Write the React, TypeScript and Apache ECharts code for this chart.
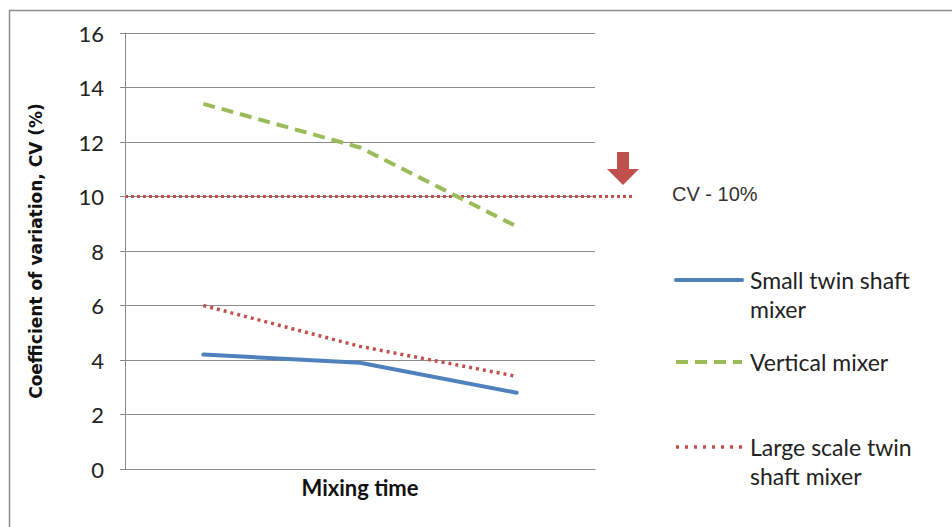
import React, { useEffect, useRef } from "react";
import * as echarts from "echarts";

const categories = ["T1", "T2", "T3"];
const seriesNames = ["Small twin shaft mixer", "Vertical mixer", "Large scale twin shaft mixer"];
const legendLines = [["Small twin shaft", "mixer"], ["Vertical mixer"], ["Large scale twin", "shaft mixer"]];
const smallTwin = [4.2, 3.9, 2.8];
const vertical = [13.4, 11.8, 8.9];
const largeScale = [6.0, 4.5, 3.4];
const cvLimit = 10;
const cvLabel = "CV - 10%";
const yTitle = "Coefficient of variation, CV (%)";
const xTitle = "Mixing time";

const BLUE = "#4F81BD";
const GREEN = "#9BBB59";
const RED = "#C0504D";
const GRID = "#8a8a8a";
const FONT = "Lato";

export default function App() {
  const ref = useRef<HTMLDivElement>(null);
  useEffect(() => {
    document.body.style.margin = "0";
    const chart = echarts.init(ref.current!, null, { renderer: "svg" });
    const option: any = {
      animation: false,
      backgroundColor: "#ffffff",
      grid: { left: 125, right: 357, top: 33, bottom: 58, containLabel: false },
      xAxis: {
        type: "category",
        data: categories,
        boundaryGap: true,
        name: xTitle,
        nameLocation: "middle",
        nameGap: 7,
        nameTextStyle: { fontFamily: FONT, fontSize: 22, fontWeight: "bold", color: "#111" },
        axisLine: { show: true, lineStyle: { color: GRID, width: 1 } },
        axisTick: { show: false },
        axisLabel: { show: false },
        splitLine: { show: false },
      },
      yAxis: {
        type: "value",
        min: 0,
        max: 16,
        interval: 2,
        name: yTitle,
        nameLocation: "middle",
        nameGap: 81,
        nameTextStyle: { fontFamily: "DejaVu Sans", fontSize: 17, fontWeight: "bold", color: "#111" },
        axisLine: { show: true, lineStyle: { color: GRID, width: 1 } },
        axisTick: { show: true, length: 5, lineStyle: { color: GRID } },
        axisLabel: { fontFamily: FONT, fontSize: 22, color: "#222", margin: 21 },
        splitLine: { show: true, lineStyle: { color: GRID, width: 1 } },
      },
      series: [
        {
          name: seriesNames[0], type: "line", data: smallTwin, symbol: "none",
          lineStyle: { color: BLUE, width: 4, cap: "round" }, itemStyle: { color: BLUE },
        },
        {
          name: seriesNames[1], type: "line", data: vertical, symbol: "none",
          lineStyle: { color: GREEN, width: 4, type: [12, 7] }, itemStyle: { color: GREEN },
        },
        {
          name: seriesNames[2], type: "line", data: largeScale, symbol: "none",
          lineStyle: { color: RED, width: 3.5, type: [3, 4] }, itemStyle: { color: RED },
        },
      ],
    };
    chart.setOption(option);

    const yCv = chart.convertToPixel({ yAxisIndex: 0 }, cvLimit) as number;
    const legendStyles = [
      { stroke: BLUE, lineWidth: 4, lineCap: "round" },
      { stroke: GREEN, lineWidth: 4, lineDash: [12, 7] },
      { stroke: RED, lineWidth: 3.5, lineDash: [3, 6] },
    ];
    const legendY = [280, 362, 447];
    const graphic: any[] = [
      {
        type: "rect", silent: true,
        shape: { x: 9.5, y: 10.5, width: 1200, height: 1200 },
        style: { fill: "none", stroke: "#8c8c8c", lineWidth: 1.5 },
      },
      {
        type: "line", silent: true,
        shape: { x1: 125, y1: yCv, x2: 635, y2: yCv },
        style: { stroke: RED, lineWidth: 3, lineDash: [3, 3] },
      },
      {
        type: "polygon", silent: true,
        shape: { points: [[617, 152], [629, 152], [629, 169], [639, 169], [623, 185], [607, 169], [617, 169]] },
        style: { fill: RED },
      },
      {
        type: "text", silent: true, x: 672, y: 194,
        style: { text: cvLabel, fontFamily: "Liberation Sans", fontSize: 20, fill: "#333", verticalAlign: "middle" },
      },
    ];
    legendY.forEach((y, i) => {
      graphic.push({
        type: "line", silent: true,
        shape: { x1: 676, y1: y, x2: 742, y2: y },
        style: legendStyles[i],
      });
      legendLines[i].forEach((t, j) => {
        graphic.push({
          type: "text", silent: true, x: 750, y: y + j * 29,
          style: { text: t, fontFamily: FONT, fontSize: 23, fill: "#222", verticalAlign: "middle" },
        });
      });
    });
    chart.setOption({ graphic });
    return () => chart.dispose();
  }, []);
  return <div ref={ref} style={{ width: 952, height: 527 }} />;
}
